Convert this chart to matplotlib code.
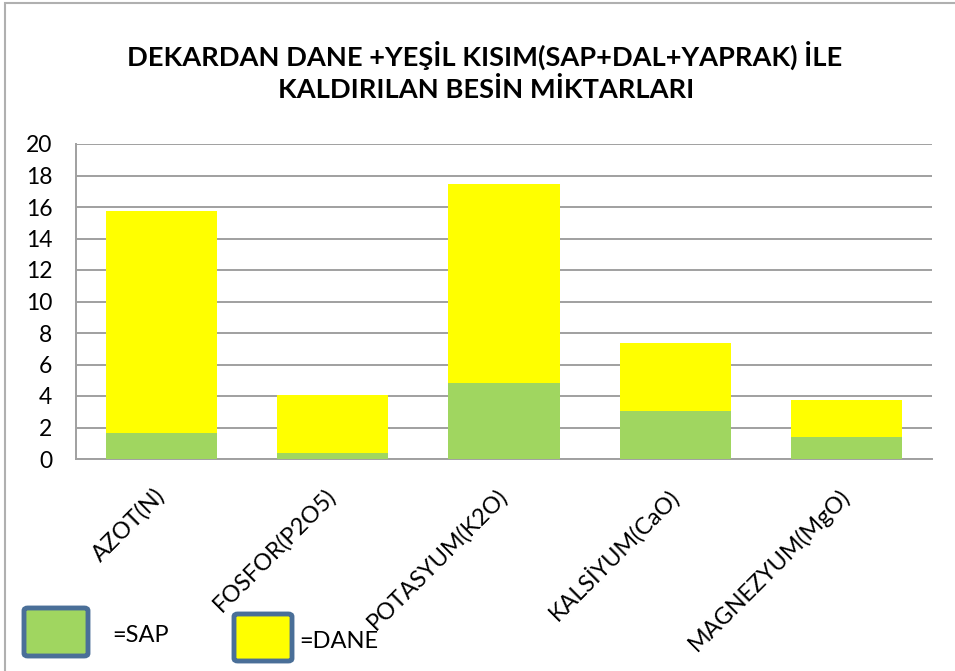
import matplotlib
matplotlib.use("Agg")
from matplotlib import pyplot as plt
from matplotlib.patches import FancyBboxPatch, Rectangle
import numpy as np

# data
categories = ["AZOT(N)", "FOSFOR(P2O5)", "POTASYUM(K2O)", "KALSİYUM(CaO)", "MAGNEZYUM(MgO)"]
sap = [1.65, 0.35, 4.85, 3.05, 1.4]
dane_total = [15.75, 4.05, 17.45, 7.35, 3.75]
dane = [t - s for t, s in zip(dane_total, sap)]
yticks = [0, 2, 4, 6, 8, 10, 12, 14, 16, 18, 20]

title_lines = ["DEKARDAN DANE +YEŞİL KISIM(SAP+DAL+YAPRAK) İLE",
               "KALDIRILAN BESİN MİKTARLARI"]

green = "#A0D660"
yellow = "#FFFF00"
edge = "#4A6F98"
grid = "#A0A0A0"

plt.rcParams['font.family'] = ['Lato', 'DejaVu Sans']

W, H = 955, 671
fig = plt.figure(figsize=(W/100, H/100), dpi=100)

def fx(x):
  return x / W

def fy(y):
  return 1 - y / H

# outer chart frame (only top/left visible in reference)
fig.add_artist(Rectangle((fx(5), fy(700)), fx(1000), 700/H - 3/H, transform=fig.transFigure,
                         fill=False, edgecolor="#B0B0B0", lw=1.5))

# title
fig.text(fx(485), fy(55), title_lines[0], ha="center", va="center",
         fontsize=19.6, fontweight="bold")
fig.text(fx(486), fy(89), title_lines[1], ha="center", va="center",
         fontsize=19.6, fontweight="bold")

ax = fig.add_axes([fx(76), fy(459), (932-76)/W, (459-144)/H])
x = np.arange(len(categories))
ax.bar(x, sap, width=0.65, color=green, zorder=3)
ax.bar(x, dane, width=0.65, bottom=sap, color=yellow, zorder=3)

ax.set_xlim(-0.5, len(categories) - 0.5)
ax.set_ylim(0, 20)
ax.set_yticks(yticks)
ax.set_yticklabels([str(v) for v in yticks], fontsize=16.5)
ax.yaxis.grid(True, color=grid, lw=1.4, zorder=0)
ax.set_xticks(x)
ax.set_xticklabels(categories, fontsize=16.8, rotation=45, ha="right",
                   va="center", rotation_mode="anchor")
ax.tick_params(axis="y", length=0, pad=17)
ax.tick_params(axis="x", length=0, pad=24)
for s in ["top", "right"]:
  ax.spines[s].set_visible(False)
for s in ["left", "bottom"]:
  ax.spines[s].set_color(grid)
  ax.spines[s].set_linewidth(1.4)

# hand drawn legend boxes
def legend_box(x0, y0, x1, y1, color):
  p = FancyBboxPatch((fx(x0), fy(y1)), fx(x1 - x0), (y1 - y0)/H,
                     boxstyle="round,pad=0,rounding_size=0.004",
                     transform=fig.transFigure, facecolor=color,
                     edgecolor=edge, lw=3.5)
  fig.add_artist(p)

legend_box(24, 608, 88, 656, green)
legend_box(234, 614, 292, 661, yellow)
fig.text(fx(112), fy(635), "=SAP", ha="left", va="center", fontsize=17)
fig.text(fx(299), fy(642), "=DANE", ha="left", va="center", fontsize=17)

fig.savefig("out.png", dpi=100, facecolor="white")
